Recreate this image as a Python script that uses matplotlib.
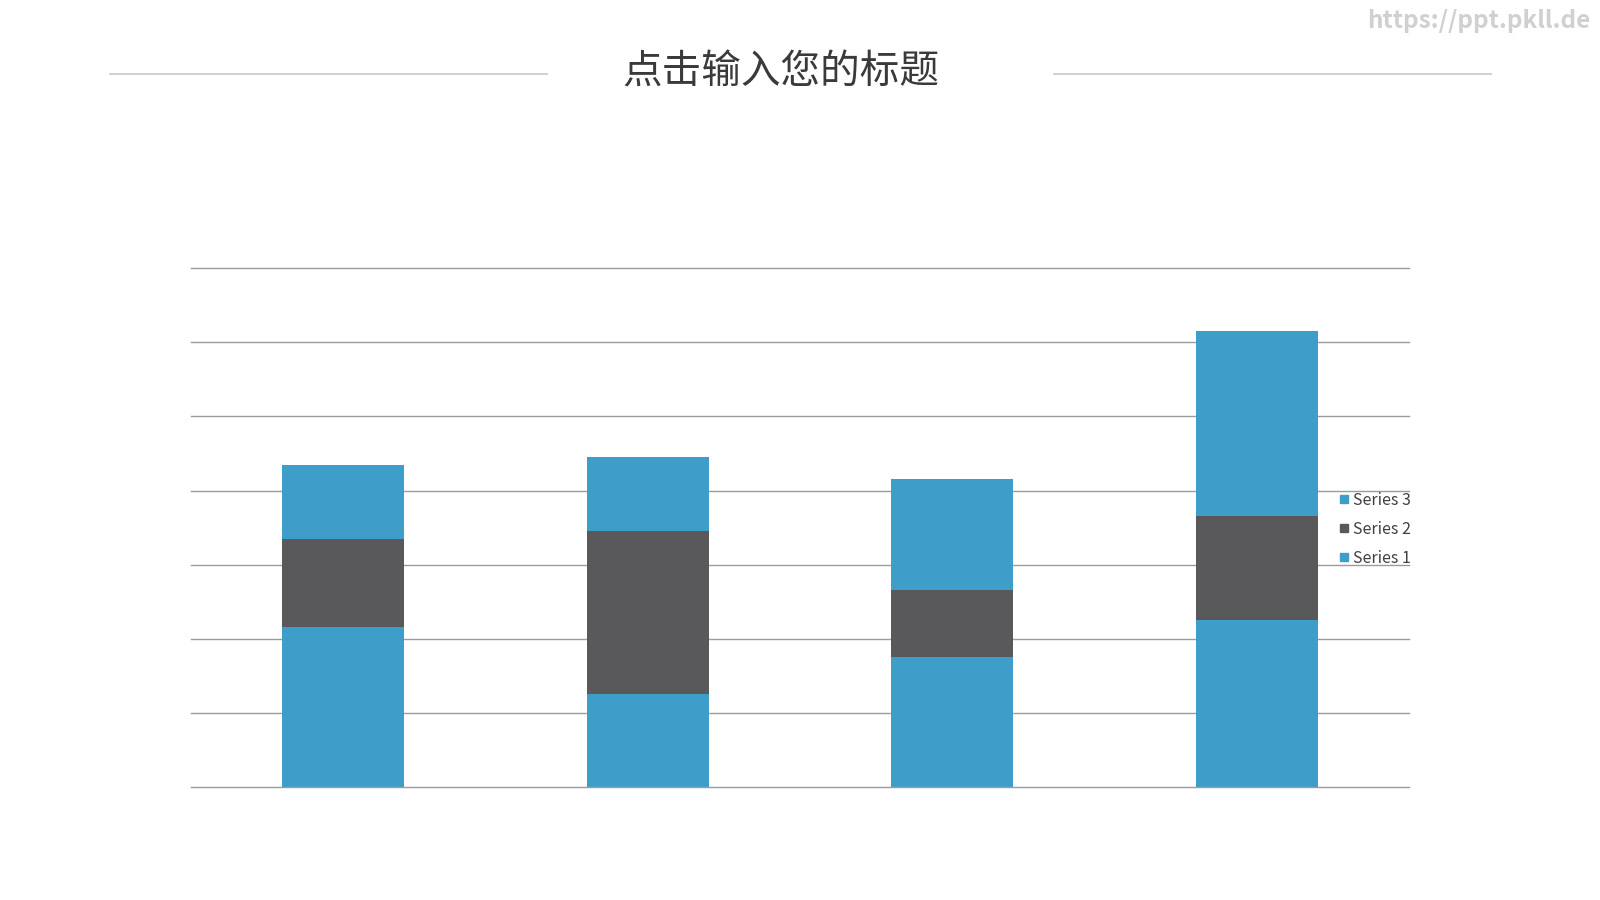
import matplotlib.pyplot as plt
from matplotlib.lines import Line2D

plt.rcParams['font.family'] = ['Noto Sans CJK SC', 'DejaVu Sans']

# Data
categories = ['Category 1', 'Category 2', 'Category 3', 'Category 4']
series1 = [4.3, 2.5, 3.5, 4.5]
series2 = [2.4, 4.4, 1.8, 2.8]
series3 = [2.0, 2.0, 3.0, 5.0]
y_ticks = [0, 2, 4, 6, 8, 10, 12, 14]

blue = '#3E9DC9'
dark = '#59585A'
grid_color = '#9C9C9C'

fig = plt.figure(figsize=(16, 9), dpi=100)
fig.patch.set_facecolor('white')

# Plot area
ax = fig.add_axes([0.11925, 0.1259, 0.7615, 0.5759])
x = range(len(categories))
bottom2 = [a for a in series1]
bottom3 = [a + b for a, b in zip(series1, series2)]
ax.bar(x, series1, width=0.4, color=blue, zorder=3)
ax.bar(x, series2, width=0.4, bottom=bottom2, color=dark, zorder=3)
ax.bar(x, series3, width=0.4, bottom=bottom3, color=blue, zorder=3)

ax.set_xlim(-0.5, 3.5)
ax.set_ylim(0, 14)
# horizontal gridlines (incl. baseline), not clipped at the edges
for yv in y_ticks:
    ax.axhline(yv, color=grid_color, linewidth=1.0, zorder=0 if yv else 4, clip_on=False)
ax.set_xticks([])
ax.set_yticks([])
for s in ax.spines.values():
    s.set_visible(False)

# Legend (reversed order, no frame)
handles = [
    Line2D([], [], marker='s', linestyle='none', color=blue, markersize=6),
    Line2D([], [], marker='s', linestyle='none', color=dark, markersize=6),
    Line2D([], [], marker='s', linestyle='none', color=blue, markersize=6),
]
leg = fig.legend(handles, ['Series 3', 'Series 2', 'Series 1'],
                 loc='center left', bbox_to_anchor=(0.832, 0.412),
                 frameon=False, fontsize=11.5, handlelength=0.6,
                 handletextpad=0.25, labelspacing=0.75, borderpad=0)
for t in leg.get_texts():
    t.set_color('#404040')

# Title and decorative lines
fig.text(0.488, 0.919, '点击输入您的标题', ha='center', va='center',
         fontsize=28.5, color='#3A3A3A')
fig.add_artist(Line2D([0.069, 0.342], [0.918, 0.918], color='#C8C8C8', linewidth=1.2))
fig.add_artist(Line2D([0.659, 0.932], [0.918, 0.918], color='#C8C8C8', linewidth=1.2))

# Watermark
fig.text(0.994, 0.977, 'https://ppt.pkll.de', ha='right', va='center',
         fontsize=17.5, color='#D0D0D0', fontweight='bold')

fig.savefig('out.png', dpi=100, facecolor='white')
